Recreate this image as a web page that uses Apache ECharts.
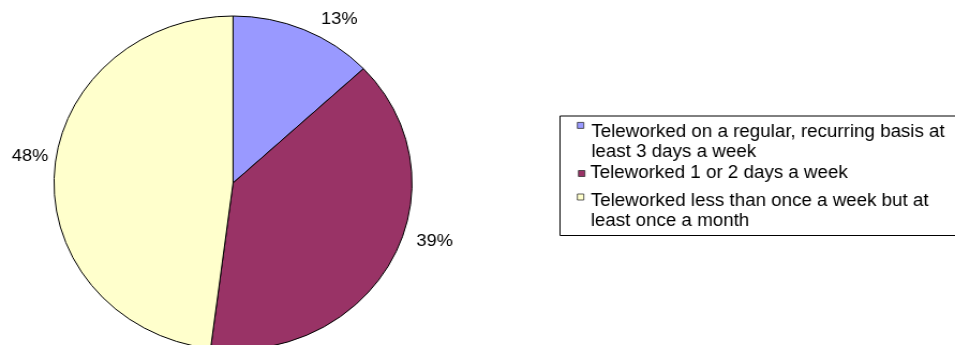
<!DOCTYPE html>
<html>
<head>
<meta charset="utf-8">
<script src="https://cdn.jsdelivr.net/npm/echarts@6/dist/echarts.min.js"></script>
<style>
  html, body { margin: 0; padding: 0; background: #fff; overflow: hidden; width: 955px; height: 345px; }
  /* the chart is laid out on a narrower canvas and widened to fill the window */
  #chart { width: 891px; height: 345px; transform: scaleX(1.0718); transform-origin: 0 0; }
</style>
</head>
<body>
<div id="chart"></div>
<script>
// Share of teleworkers by frequency of teleworking (percent)
const categories = [
  'Teleworked on a regular, recurring basis at\nleast 3 days a week',
  'Teleworked 1 or 2 days a week',
  'Teleworked less than once a week but at\nleast once a month'
];
const shares = [13, 39, 48];
const sliceColors = ['#9999FF', '#993366', '#FFFFCC'];

const FONT = '"Liberation Sans", Arial, sans-serif';

// where each percentage label sits, beside its slice
const labelSpots = [[316.5, 19.5], [405.5, 241.5], [28, 156.5]];

// legend rows: marker position, marker box height and text indent per row
const legendRows = [
  { left: 538.3, top: 122, h: 40, icon: 'path://M0,0H6V6H0Z M0,40', indent: 2 },
  { left: 539.3, top: 163.5, h: 6, icon: 'rect', indent: 0 },
  { left: 538.3, top: 191.5, h: 35, icon: 'path://M0,0H6V6H0Z M0,35', indent: 1.5 }
];

const chart = echarts.init(document.getElementById('chart'), null, { renderer: 'canvas' });

chart.setOption({
  animation: false,
  backgroundColor: '#ffffff',
  color: sliceColors,
  graphic: [{
    type: 'rect',
    left: 520,
    top: 113.5,
    shape: { width: 400, height: 119.5 },
    style: { fill: 'none', stroke: '#000', lineWidth: 1 },
    silent: true
  }],
  legend: categories.map((name, i) => ({
    data: [name],
    orient: 'vertical',
    left: legendRows[i].left,
    top: legendRows[i].top,
    padding: 0,
    itemGap: 0,
    itemWidth: 6,
    itemHeight: legendRows[i].h,
    icon: legendRows[i].icon,
    selectedMode: false,
    itemStyle: { borderColor: '#333', borderWidth: 0.8 },
    textStyle: {
      fontFamily: FONT, fontSize: 17.5, lineHeight: 20, color: '#000',
      padding: [0, 0, 0, legendRows[i].indent]
    }
  })),
  series: [{
    type: 'pie',
    center: [217.4, 183],
    radius: 167,
    startAngle: 90,
    clockwise: true,
    silent: true,
    avoidLabelOverlap: false,
    emphasis: { disabled: true },
    itemStyle: { borderColor: '#000', borderWidth: 1 },
    label: {
      show: true,
      position: 'inside',
      formatter: '{c}%',
      fontFamily: FONT,
      fontSize: 17,
      color: '#000'
    },
    labelLine: { show: false },
    labelLayout: (p) => ({
      x: labelSpots[p.dataIndex][0],
      y: labelSpots[p.dataIndex][1],
      align: 'center',
      verticalAlign: 'middle',
      hideOverlap: false
    }),
    data: categories.map((name, i) => ({ name: name, value: shares[i] }))
  }]
});
</script>
</body>
</html>
